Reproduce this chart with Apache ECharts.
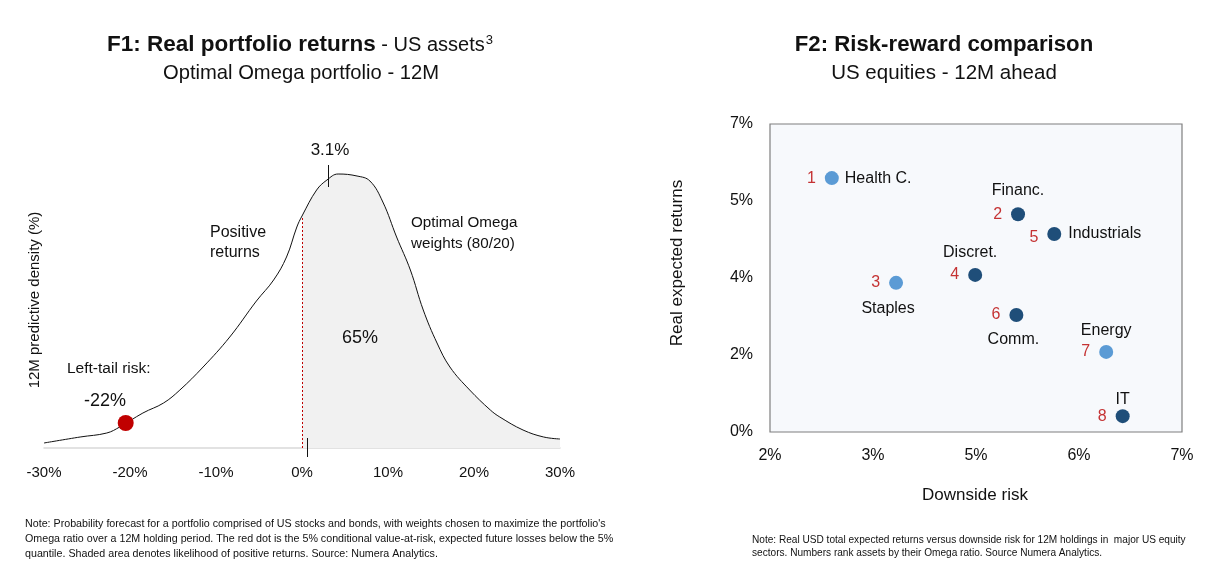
<!DOCTYPE html>
<html>
<head>
<meta charset="utf-8">
<script src="https://cdn.jsdelivr.net/npm/echarts@6/dist/echarts.min.js"></script>
<style>
html,body{margin:0;padding:0;background:#fff;}
#c{width:1221px;height:578px;}
</style>
</head>
<body>
<div id="c"></div>
<script>
// ---------- F1 data: predictive density of 12M real returns ----------
var returnsPct = [-30, -25.8, -22.7, -21.2, -18.5, -16.1, -14.2, -11.5, -8.4, -5.3, -3.3, -1.8, -0.6, 0, 1.7, 2.9, 4.2, 6.4, 7.9, 9.4, 11.0, 12.6, 14.1, 15.7, 17.2, 19.5, 21.9, 23.0, 25.7, 28.1, 30];
var density = [0.05, 0.11, 0.15, 0.21, 0.35, 0.45, 0.58, 0.81, 1.11, 1.47, 1.68, 1.91, 2.21, 2.32, 2.58, 2.68, 2.74, 2.72, 2.67, 2.46, 2.11, 1.78, 1.38, 1.05, 0.81, 0.58, 0.38, 0.31, 0.18, 0.11, 0.09];
var cvarPoint = [-20.5, 0.25];          // red dot (5% CVaR)
var modeReturn = 3.1;                   // labelled 3.1%
var modeTick = [2.61, 2.83];
var meanReturn = 0.6;
var meanTick = [-0.09, 0.10];
var densityAtZero = 2.32;

// ---------- F2 data: risk-reward ----------
var sectors = ['Health C.', 'Financ.', 'Staples', 'Discret.', 'Industrials', 'Comm.', 'Energy', 'IT'];
var omegaRank = [1, 2, 3, 4, 5, 6, 7, 8];
var downsideRisk = [2.75, 5.01, 3.53, 4.49, 5.45, 4.99, 6.08, 6.28];
var expectedReturn = [5.77, 4.95, 3.39, 3.57, 4.50, 2.66, 1.82, 0.36];
var sectorGroup = ['light', 'dark', 'light', 'dark', 'dark', 'dark', 'light', 'dark'];
var f2XTickValues = [2, 3.25, 4.5, 5.75, 7];
var f2XTickLabels = ['2%', '3%', '5%', '6%', '7%'];
var f2YTickValues = [0, 1.75, 3.5, 5.25, 7];
var f2YTickLabels = ['0%', '2%', '4%', '5%', '7%'];

// ---------- styles ----------
var FONT = "'Liberation Sans', Arial, sans-serif";
var groupColor = {light: '#5b9bd5', dark: '#1f4e79'};
var nameLabelStyle = {
  'Health C.': {position: 'right', distance: 6},
  'Financ.': {position: 'top', distance: 9},
  'Staples': {position: 'bottom', distance: 11, offset: [-8, 0]},
  'Discret.': {position: 'top', distance: 7, offset: [-5, 0]},
  'Industrials': {position: 'right', distance: 7},
  'Comm.': {position: 'bottom', distance: 10, offset: [-3, 0]},
  'Energy': {position: 'top', distance: 6},
  'IT': {position: 'top', distance: 2}
};
var rankOffset = {'Industrials': [0, 4]};

var densityData = returnsPct.map(function (x, i) { return [x, density[i]]; });
var xMin = returnsPct[0], xMax = returnsPct[returnsPct.length - 1];
var zeroStop = (0 - xMin) / (xMax - xMin);

var pointData = sectors.map(function (s, i) {
  var st = nameLabelStyle[s];
  return {
    name: s,
    value: [downsideRisk[i], expectedReturn[i]],
    itemStyle: {color: groupColor[sectorGroup[i]], opacity: 1},
    label: {show: true, position: st.position, distance: st.distance, offset: st.offset || [0, 0],
            formatter: s, color: '#111', fontSize: 16, fontFamily: FONT}
  };
});
var rankData = sectors.map(function (s, i) {
  return {name: String(omegaRank[i]), value: [downsideRisk[i], expectedReturn[i]],
          label: {offset: rankOffset[s] || [0, 0]}};
});

function txt(x, y, text, size, extra) {
  var st = {text: text, fontSize: size, fontFamily: FONT, fill: '#111', align: 'center', verticalAlign: 'middle'};
  if (extra) { for (var k in extra) st[k] = extra[k]; }
  return {type: 'text', x: x, y: y, z: 100, style: st};
}

var chart = echarts.init(document.getElementById('c'), null, {renderer: 'canvas'});
var option = {
  animation: false,
  backgroundColor: '#fff',
  textStyle: {fontFamily: FONT},
  grid: [
    {left: 44, right: 661, top: 148, bottom: 110},
    {left: 770, right: 39, top: 124, bottom: 146, show: true, backgroundColor: '#f7f9fc', borderColor: '#7f7f7f', borderWidth: 1.2}
  ],
  xAxis: [
    {gridIndex: 0, type: 'value', min: -30, max: 30, interval: 10,
     axisLine: {show: true, onZero: true, lineStyle: {color: '#d9d9d9', width: 1.5}},
     axisTick: {show: false}, splitLine: {show: false},
     axisLabel: {color: '#111', fontSize: 15, margin: -3, fontFamily: FONT,
                 formatter: function (v) { return v + '%'; }}},
    {gridIndex: 1, type: 'value', min: 2, max: 7,
     axisLine: {show: false}, axisTick: {show: false}, splitLine: {show: false},
     axisLabel: {color: '#111', fontSize: 16, margin: 16, fontFamily: FONT, customValues: f2XTickValues,
                 formatter: function (v) { var k = f2XTickValues.indexOf(v); return k >= 0 ? f2XTickLabels[k] : ''; }}}
  ],
  yAxis: [
    {gridIndex: 0, type: 'value', min: -0.2, max: 3.0,
     axisLine: {show: false}, axisTick: {show: false}, splitLine: {show: false}, axisLabel: {show: false}},
    {gridIndex: 1, type: 'value', min: 0, max: 7,
     axisLine: {show: false}, axisTick: {show: false}, splitLine: {show: false},
     axisLabel: {color: '#111', fontSize: 16, margin: 17, fontFamily: FONT, customValues: f2YTickValues,
                 formatter: function (v) { var k = f2YTickValues.indexOf(v); return k >= 0 ? f2YTickLabels[k] : ''; }}}
  ],
  series: [
    {type: 'line', xAxisIndex: 0, yAxisIndex: 0, data: densityData, smooth: 0.4,
     symbol: 'none', lineStyle: {color: '#111', width: 1},
     areaStyle: {origin: 0, opacity: 1, color: {type: 'linear', x: 0, y: 0, x2: 1, y2: 0,
       colorStops: [{offset: 0, color: 'rgba(242,242,242,0)'}, {offset: zeroStop, color: 'rgba(242,242,242,0)'},
                    {offset: zeroStop, color: '#f1f1f1'}, {offset: 1, color: '#f1f1f1'}]}},
     markLine: {silent: true, symbol: 'none', label: {show: false},
       data: [
         [{coord: [0, 0], lineStyle: {color: '#c00000', type: [2, 2], width: 1}}, {coord: [0, densityAtZero]}],
         [{coord: [modeReturn, modeTick[0]], lineStyle: {color: '#111', type: 'solid', width: 1}}, {coord: [modeReturn, modeTick[1]]}],
         [{coord: [meanReturn, meanTick[0]], lineStyle: {color: '#111', type: 'solid', width: 1}}, {coord: [meanReturn, meanTick[1]]}]
       ]}},
    {type: 'scatter', xAxisIndex: 0, yAxisIndex: 0, data: [cvarPoint], symbolSize: 16,
     itemStyle: {color: '#c00000', opacity: 1}, z: 5},
    {type: 'scatter', xAxisIndex: 1, yAxisIndex: 1, data: pointData, symbolSize: 14, z: 4},
    {type: 'scatter', xAxisIndex: 1, yAxisIndex: 1, data: rankData, symbolSize: 14,
     itemStyle: {color: 'rgba(0,0,0,0)'}, z: 3,
     label: {show: true, position: 'left', distance: 9, formatter: '{b}', color: '#b80000', fontSize: 16, fontFamily: FONT}}
  ],
  graphic: [
    {type: 'text', x: 300, y: 45, z: 100, style: {
      text: '{b|F1: Real portfolio returns}{r| - US assets}{s|3}', align: 'center', verticalAlign: 'middle',
      rich: {b: {fontSize: 22.5, fontWeight: 'bold', fontFamily: FONT, fill: '#111'},
             r: {fontSize: 20, fontFamily: FONT, fill: '#111'},
             s: {fontSize: 13, fontFamily: FONT, fill: '#111', verticalAlign: 'top', padding: [0, 0, 10, 1]}}}},
    txt(301, 73, 'Optimal Omega portfolio - 12M', 20.2),
    txt(944, 45, 'F2: Risk-reward comparison', 22.2, {fontWeight: 'bold'}),
    txt(944, 73, 'US equities - 12M ahead', 20.5),
    {type: 'text', x: 35, y: 300, rotation: Math.PI / 2, z: 100, style: {text: '12M predictive density (%)', fontSize: 15, fontFamily: FONT, fill: '#111', align: 'center', verticalAlign: 'middle'}},
    {type: 'text', x: 677, y: 263, rotation: Math.PI / 2, z: 100, style: {text: 'Real expected returns', fontSize: 17, fontFamily: FONT, fill: '#111', align: 'center', verticalAlign: 'middle'}},
    txt(975, 495, 'Downside risk', 17),
    txt(330, 150, '3.1%', 17),
    txt(210, 243, 'Positive\nreturns', 16, {lineHeight: 20, align: 'left'}),
    txt(411, 233, 'Optimal Omega\nweights (80/20)', 15.2, {lineHeight: 21, align: 'left'}),
    txt(360, 338, '65%', 18),
    txt(67, 369, 'Left-tail risk:', 15.5, {align: 'left'}),
    txt(105, 401, '-22%', 18),
    txt(25, 539, "Note: Probability forecast for a portfolio comprised of US stocks and bonds, with weights chosen to maximize the portfolio's\nOmega ratio over a 12M holding period. The red dot is the 5% conditional value-at-risk, expected future losses below the 5%\nquantile. Shaded area denotes likelihood of positive returns. Source: Numera Analytics.",
      10.7, {lineHeight: 15, align: 'left'}),
    txt(752, 546.5, "Note: Real USD total expected returns versus downside risk for 12M holdings in  major US equity\nsectors. Numbers rank assets by their Omega ratio. Source Numera Analytics.",
      10.1, {lineHeight: 13, align: 'left'})
  ]
};
chart.setOption(option);
</script>
</body>
</html>
